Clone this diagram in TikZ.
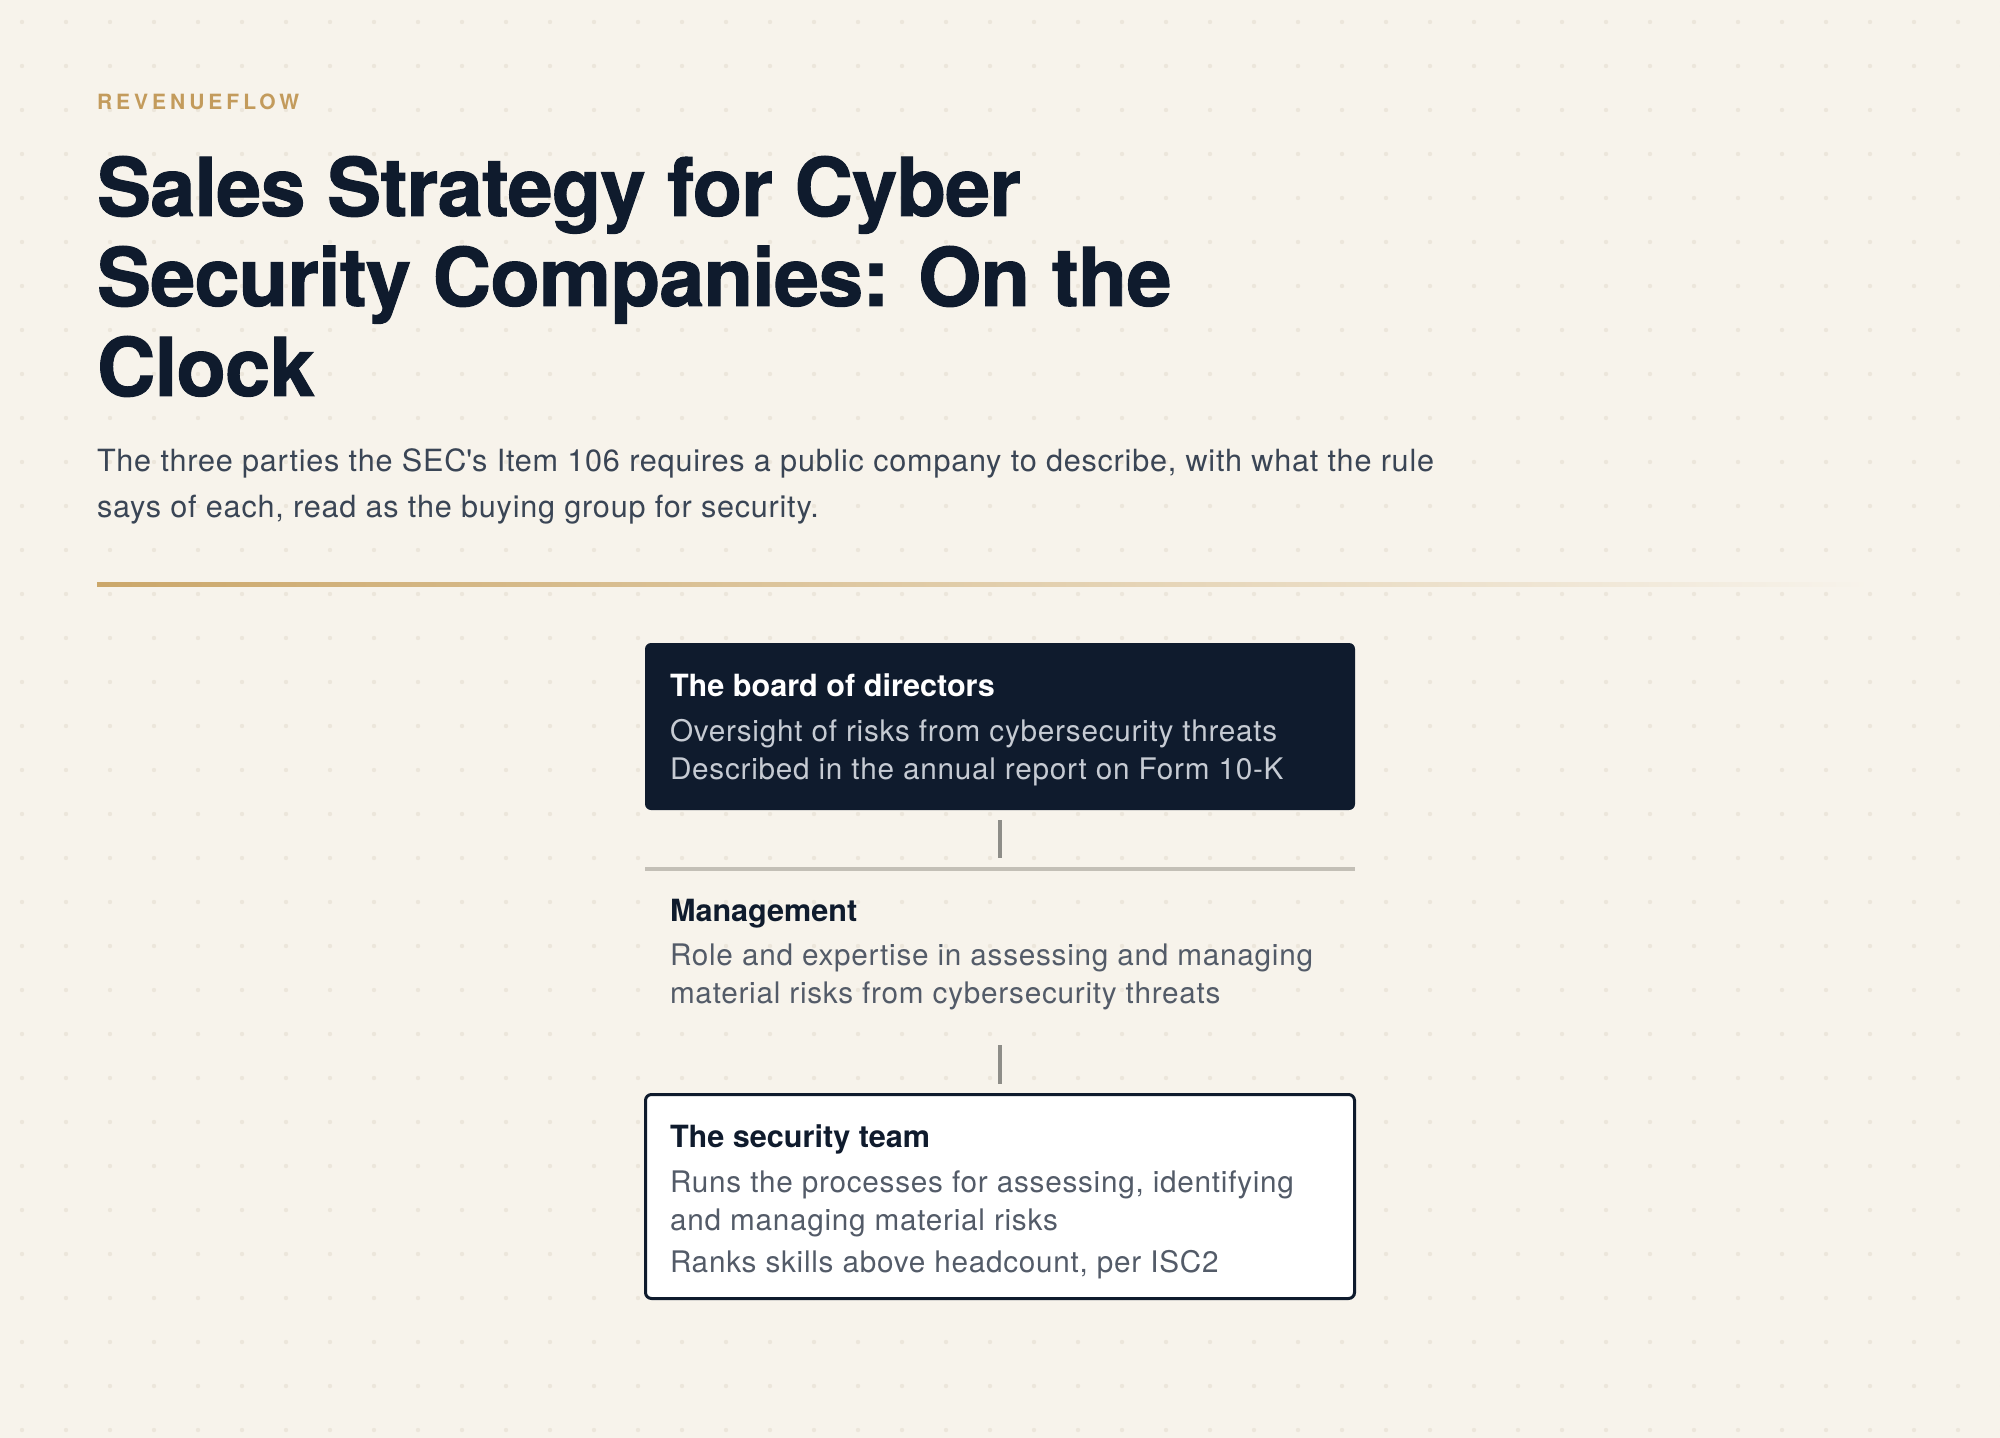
\documentclass[tikz,border=0pt]{standalone}
\usepackage{fontspec}
\setmainfont{TeX Gyre Heros}[LetterSpace=2.5]
\newfontfamily\cardfont{TeX Gyre Heros}
\newfontfamily\brandfont{TeX Gyre Heros}[LetterSpace=19]
\newfontfamily\headfont{TeX Gyre Heros}[LetterSpace=-1,BoldFeatures={FakeBold=1.2}]

\definecolor{paper}{HTML}{F7F3EB}
\definecolor{dotgray}{HTML}{ECE6DB}
\definecolor{navy}{HTML}{0F1B2D}
\definecolor{gold}{HTML}{C39B5C}
\definecolor{rulegold}{HTML}{CBA76A}
\definecolor{slate}{HTML}{3A4555}
\definecolor{bodygray}{HTML}{535B68}
\definecolor{palegray}{HTML}{C6CBD3}
\definecolor{linkgray}{HTML}{8E8D88}
\definecolor{splitgray}{HTML}{C3BFB6}

\begin{document}
\begin{tikzpicture}[x=0.5pt,y=-0.5pt]
    \tikzstyle{every node}=[inner sep=0pt, outer sep=0pt]
    \tikzstyle{card}=[rectangle, minimum width=355pt]
    \tikzstyle{board card}=[card, fill=navy, rounded corners=3pt, minimum height=83.5pt]
    \tikzstyle{plain card}=[card, minimum height=83pt]
    \tikzstyle{team card}=[card, fill=white, draw=navy, line width=1.5pt, rounded corners=3pt, minimum width=354.5pt, minimum height=102pt]
    \tikzstyle{card title}=[anchor=base west, font=\cardfont\bfseries\fontsize{15.3pt}{19pt}\selectfont]
    \tikzstyle{card text}=[anchor=base west, align=left, font=\fontsize{14.85pt}{19pt}\selectfont]
    \tikzstyle{link}=[draw=linkgray, line width=1.75pt, shorten <=5pt, shorten >=5.5pt]

    % Paper and dot grid
    \useasboundingbox (0,0) rectangle (2000,1438);
    \fill[paper] (0,0) rectangle (2000,1438);
    \foreach \i in {0,...,45}
        \foreach \j in {0,...,32}
            \fill[dotgray] (22+44*\i,22+44*\j) circle (1.1pt);

    % Header (multi-line nodes sit on their last baseline)
    \node[anchor=base west, text=gold, font=\brandfont\bfseries\fontsize{10.5pt}{12pt}\selectfont] (brand) at (97,110) {REVENUEFLOW};
    \node[anchor=base west, align=left, text=navy, font=\headfont\bfseries\fontsize{40.5pt}{45pt}\selectfont] (title) at (97,396)
        {Sales Strategy for Cyber\\Security Companies: On the\\Clock};
    \node[anchor=base west, align=left, text=slate, font=\fontsize{15.3pt}{23pt}\selectfont] (lede) at (97,517)
        {The three parties the SEC\textquotesingle s Item 106 requires a public company to describe, with what the rule\\says of each, read as the buying group for security.};
    \shade[left color=rulegold, middle color=rulegold!70!paper, right color=paper] (97,582) rectangle (1870,586);

    % The three parties
    \node[board card] (board) at (1000,726.5) {};
    \node[plain card] (mgmt) at (1000,952) {};
    \node[team card] (team) at (1000,1196.5) {};
    \draw[splitgray, line width=1.7pt] (mgmt.north west) -- (mgmt.north east);

    \node[card title, text=white] (board-t) at (670,696) {The board of directors};
    \node[card text, text=palegray] (board-b) at (670,779)
        {Oversight of risks from cybersecurity threats\\Described in the annual report on Form 10-K};

    \node[card title, text=navy] (mgmt-t) at (670,921.5) {Management};
    \node[card text, text=bodygray] (mgmt-b) at (670,1003.5)
        {Role and expertise in assessing and managing\\material risks from cybersecurity threats};

    \node[card title, text=navy] (team-t) at (670,1147) {The security team};
    \node[card text, text=bodygray] (team-b1) at (670,1230)
        {Runs the processes for assessing, identifying\\and managing material risks};
    \node[card text, text=bodygray] (team-b2) at (670,1272) {Ranks skills above headcount, per ISC2};

    % Connect the parties
    \path[link] (board.south) -- (mgmt.north);
    \path[link] (mgmt.south) -- (team.north);
\end{tikzpicture}
\end{document}
